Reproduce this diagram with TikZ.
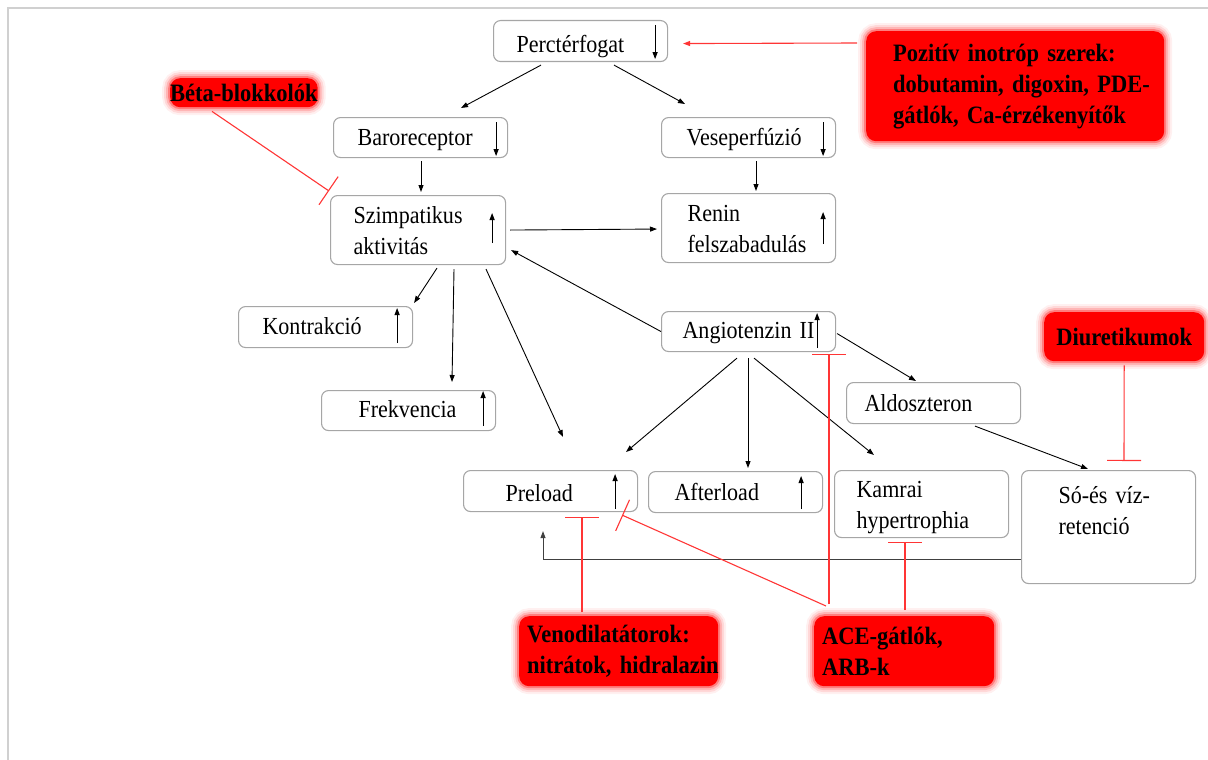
\documentclass[tikz,border=0pt]{standalone}
\usepackage{fontspec}
\setmainfont{Liberation Serif}[FakeStretch=0.9]
\usetikzlibrary{arrows.meta,calc}
\definecolor{boxgray}{HTML}{A6A6A6}
\definecolor{framegray}{HTML}{D0D0D0}
\definecolor{inhred}{HTML}{FF3535}
\definecolor{loopgray}{HTML}{404040}
\begin{document}
\begin{tikzpicture}[x=1pt,y=-1pt,
  box/.style={draw=boxgray, line width=1.1pt, rounded corners=7pt, fill=white,
    anchor=north west, align=left, inner ysep=0pt, text height=20pt, text depth=4pt,
    font=\fontsize{24.5}{31}\selectfont},
  twoline/.style={text height=23pt, text depth=36pt},
  drug/.style={fill=red, rounded corners=10pt, anchor=north west, inner ysep=0pt,
    font=\fontsize{25}{31}\selectfont\bfseries,
    preaction={draw=red, line width=16pt, opacity=0.06},
    preaction={draw=red, line width=12pt, opacity=0.1},
    preaction={draw=red, line width=8pt, opacity=0.16},
    preaction={draw=red, line width=4pt, opacity=0.3}},
  conn/.style={line width=0.9pt, -{Triangle[length=7pt,width=5pt]}},
  ind/.style={line width=1pt, -{Triangle[length=7pt,width=5pt]}},
  inh/.style={draw=inhred, line width=1.1pt, -{Bar[width=34pt,line width=1.1pt]}},
  posarrow/.style={draw=inhred, line width=1.1pt, -{Triangle[length=7pt,width=5pt]}},
]
\useasboundingbox (0,0) rectangle (1208,760);
% page frame
\draw[framegray, line width=2.5pt] (8,760) -- (8,8) -- (1208,8);

% state boxes
\node[box, minimum height=41pt, inner xsep=23pt, text width=128pt, text height=24pt, text depth=2pt] (perc) at (493,20) {Perctérfogat};
\node[box, minimum height=40pt, inner xsep=24pt, text width=126pt] (baro) at (333,117) {Baroreceptor};
\node[box, minimum height=40pt, inner xsep=25pt, text width=124pt] (vese) at (661,117) {Veseperfúzió};
\node[box, twoline, minimum height=69pt, inner xsep=23pt, text width=129pt] (szimp) at (330,195) {Szimpatikus\\aktivitás};
\node[box, twoline, minimum height=69pt, inner xsep=26pt, text width=122pt] (renin) at (661,193) {Renin\\felszabadulás};
\node[box, minimum height=41pt, inner xsep=24pt, text width=126pt, text height=18pt] (kontr) at (238,306) {Kontrakció};
\node[box, minimum height=40pt, inner xsep=37pt, text width=100pt, text height=18pt] (frek) at (321,390) {Frekvencia};
\node[box, minimum height=40pt, inner xsep=21pt, text width=132pt, text height=18pt] (angio) at (661,311) {\mbox{Angiotenzin II}};
\node[box, minimum height=41pt, inner xsep=18pt, text width=138pt, text height=21pt] (aldo) at (846,382) {Aldoszteron};
\node[box, minimum height=41pt, inner xsep=42pt, text width=90pt, text height=24pt, text depth=3pt] (pre) at (463,470) {Preload};
\node[box, minimum height=41pt, inner xsep=26pt, text width=122pt, text height=21pt] (after) at (648,471) {Afterload};
\node[box, twoline, minimum height=67pt, inner xsep=22pt, text width=130pt, text height=22pt] (kamrai) at (834,470) {Kamrai\\hypertrophia};
\node[box, minimum height=113pt, inner xsep=37pt, text width=100pt, text height=20pt, text depth=67pt] (so) at (1021,470) {\mbox{Só-és víz-}\\retenció};

% up / down markers inside the boxes
\draw[ind] ([xshift=-13pt,yshift=-5pt]perc.north east) -- ([xshift=-13pt,yshift=3pt]perc.south east);
\draw[ind] ([xshift=-12pt,yshift=-5pt]baro.north east) -- ([xshift=-12pt,yshift=2pt]baro.south east);
\draw[ind] ([xshift=-13pt,yshift=-5pt]vese.north east) -- ([xshift=-13pt,yshift=2pt]vese.south east);
\draw[ind] ([xshift=-14pt,yshift=22pt]szimp.south east) -- ([xshift=-14pt,yshift=-18pt]szimp.north east);
\draw[ind] ([xshift=-13pt,yshift=19pt]renin.south east) -- ([xshift=-13pt,yshift=-19pt]renin.north east);
\draw[ind] ([xshift=-16pt,yshift=5pt]kontr.south east) -- ([xshift=-16pt,yshift=-2pt]kontr.north east);
\draw[ind] ([xshift=-13pt,yshift=5pt]frek.south east) -- ([xshift=-13pt,yshift=-1pt]frek.north east);
\draw[ind] ([xshift=-19pt,yshift=4pt]angio.south east) -- ([xshift=-19pt,yshift=-2pt]angio.north east);
\draw[ind] ([xshift=-23pt,yshift=3pt]pre.south east) -- ([xshift=-23pt,yshift=-4pt]pre.north east);
\draw[ind] ([xshift=-22pt,yshift=4pt]after.south east) -- ([xshift=-22pt,yshift=-5pt]after.north east);

% drug boxes
\node[drug, minimum width=298pt, minimum height=110pt, inner xsep=27pt, text width=244pt, align=left] (inotrop) at (866,31)
  {\mbox{Pozitív inotróp szerek:}\\\mbox{dobutamin, digoxin, PDE-}\\\mbox{gátlók, Ca-érzékenyítők}};
\node[drug, minimum width=147pt, minimum height=29pt, inner xsep=0pt, align=center] (beta) at (170,78) {Béta-blokkolók};
\node[drug, minimum width=160pt, minimum height=49pt, inner xsep=0pt, align=center] (diur) at (1044,312) {Diuretikumok};
\node[drug, minimum height=70pt, inner xsep=8pt, text width=183pt, align=left] (veno) at (519,616)
  {\mbox{Venodilatátorok:}\\\mbox{nitrátok, hidralazin}};
\node[drug, minimum height=70pt, inner xsep=8pt, text width=164pt, align=left] (ace) at (814,616)
  {\mbox{ACE-gátlók,}\\\mbox{ARB-k}};

% causal connectors
\draw[conn] ($(perc.south west)+(48,3)$) -- ($(baro.north west)+(128,-9)$);
\draw[conn] ($(perc.south west)+(121,3)$) -- ($(vese.north west)+(24,-13)$);
\draw[conn] ($(baro.south west)+(88,3)$) -- ($(szimp.north west)+(91,-3)$);
\draw[conn] ($(vese.south west)+(95,3)$) -- ($(renin.north west)+(95,-2)$);
\draw[conn] ($(szimp.east)+(4,0)$) -- ($(renin.west)+(-4,1)$);
\draw[conn] (angio.west) -- ($(szimp.south east)+(5,-15)$);
\draw[conn] ($(szimp.south west)+(107,3)$) -- ($(kontr.north east)+(1,-3)$);
\draw[conn] ($(szimp.south west)+(124,4)$) -- ($(frek.north west)+(131,-8)$);
\draw[conn] ($(szimp.south west)+(156,4)$) -- ($(pre.north west)+(100,-33)$);
\draw[conn] ($(angio.south west)+(76,6)$) -- ($(pre.north west)+(163,-18)$);
\draw[conn] ($(angio.south west)+(87,6)$) -- ($(after.north west)+(100,-3)$);
\draw[conn] ($(angio.south west)+(93,6)$) -- ($(kamrai.north west)+(40,-15)$);
\draw[conn] ($(angio.east)+(1,2)$) -- ($(aldo.north west)+(70,-1)$);
\draw[conn] ($(aldo.south west)+(129,2)$) -- ($(so.north west)+(67,-1)$);
\draw[conn, draw=loopgray] ($(so.south west)+(0,-25)$) -| ($(pre.south west)+(80,19)$);

% drug actions
\draw[posarrow] ($(inotrop.north west)+(-9,12)$) -- ($(perc.east)+(15,2.5)$);
\draw[inh] ($(beta.south west)+(42,4)$) -- ($(szimp.north west)+(-1,-4)$);
\draw[inh] ($(diur.south)+(0,4)$) -- ($(so.north west)+(103,-9)$);
\draw[inh] ($(veno.north west)+(63,-4)$) -- ($(pre.south west)+(119,5)$);
\draw[inh] ($(ace.north west)+(12,-10)$) -- ($(pre.south east)+(-16,3)$);
\draw[inh] ($(ace.north west)+(15,-12)$) -- ($(angio.south west)+(168,2)$);
\draw[inh] ($(ace.north west)+(91,-6)$) -- ($(kamrai.south west)+(71,4)$);
\end{tikzpicture}
\end{document}
